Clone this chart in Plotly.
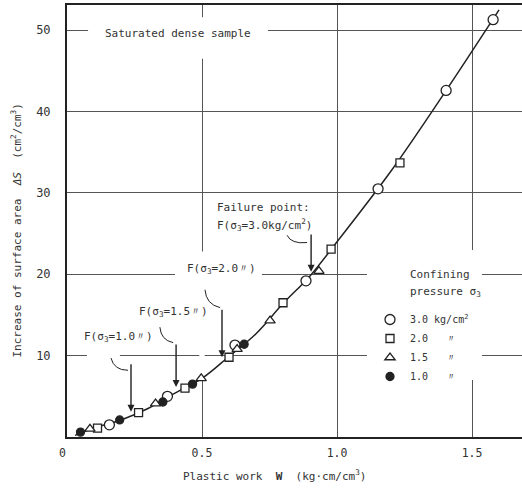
import plotly.graph_objects as go

# Plastic work W (kg.cm/cm3) vs increase of surface area dS (cm2/cm3)
w_30 = [0.157, 0.372, 0.622, 0.885, 1.152, 1.404, 1.578]
s_30 = [1.5, 5.0, 11.3, 19.2, 30.5, 42.6, 51.3]

w_20 = [0.113, 0.265, 0.437, 0.600, 0.800, 0.978, 1.233]
s_20 = [1.1, 3.0, 6.0, 9.8, 16.5, 23.1, 33.7]

w_15 = [0.085, 0.328, 0.497, 0.630, 0.752, 0.933]
s_15 = [1.0, 4.1, 7.2, 10.8, 14.3, 20.4]

w_10 = [0.050, 0.195, 0.355, 0.465, 0.656]
s_10 = [0.6, 2.1, 4.3, 6.5, 11.4]

# fitted curve
w_fit = [0.03, 0.1, 0.2, 0.3, 0.4, 0.5, 0.6, 0.7, 0.8, 0.9, 1.0, 1.2, 1.4, 1.6]
s_fit = [0.2, 1.1, 2.1, 3.5, 5.4, 7.2, 9.9, 12.7, 16.4, 19.8, 24.0, 32.7, 42.4, 52.5]

# failure points (arrow tips)
fail_w = [0.237, 0.404, 0.574, 0.904]
fail_s = [3.1, 6.15, 9.8, 20.3]
fail_len = [49, 44, 49, 50]

legend_names = ['3.0 kg/cm<sup>2</sup>', '2.0   〃', '1.5   〃', '1.0   〃']

MONO = 'DejaVu Sans Mono'
INK = '#222'
TXT = '#333'

fig = go.Figure()
fig.add_trace(go.Scatter(x=w_fit, y=s_fit, mode='lines', line=dict(color=INK, width=1.5, shape='spline'),
                         showlegend=False, hoverinfo='skip'))

series = [
    (w_30, s_30, 'circle', 'white', 10),
    (w_20, s_20, 'square', 'white', 8),
    (w_15, s_15, 'triangle-up', 'white', 9),
    (w_10, s_10, 'circle', INK, 8),
]
for (w, s, sym, fill, size), name in zip(series, legend_names):
    fig.add_trace(go.Scatter(x=w, y=s, mode='markers', name=name,
                             marker=dict(symbol=sym, color=fill, size=size,
                                         line=dict(color=INK, width=1.3))))

# white patches where the original grid is broken
gaps = [
    (0.078, 0.744, 46.5, 51.6),
    (0.49, 0.51, 7.0, 22.8),
    (0.40, 0.722, 19.5, 20.5),
    (0.074, 0.196, 9.5, 10.5),
    (1.111, 1.537, 7.0, 23.0),
]
shapes = []
for x0, x1, y0, y1 in gaps:
    shapes.append(dict(type='rect', xref='x', yref='y', x0=x0, x1=x1, y0=y0, y1=y1,
                       fillcolor='white', line=dict(width=0), layer='between'))

# curved leaders from labels to arrows
leaders = [
    (0.163, 9.7, 0.174, 8.2, 0.226, 8.2),
    (0.344, 13.5, 0.348, 11.9, 0.393, 11.6),
    (0.511, 18.1, 0.515, 16.3, 0.567, 15.9),
    (0.815, 24.8, 0.83, 23.7, 0.889, 23.9),
]
for x0, y0, cx, cy, x1, y1 in leaders:
    shapes.append(dict(type='path', xref='x', yref='y', path=f'M {x0},{y0} Q {cx},{cy} {x1},{y1}',
                       line=dict(color=INK, width=1)))

annotations = []
for w, s, ln in zip(fail_w, fail_s, fail_len):
    annotations.append(dict(x=w, y=s, ax=0, ay=-ln, text='', showarrow=True, arrowhead=2,
                            arrowsize=1, arrowwidth=1.4, arrowcolor=INK))

labels = [
    (0.056, 12.3, 'F(σ<sub>3</sub>=1.0〃)'),
    (0.259, 15.4, 'F(σ<sub>3</sub>=1.5〃)'),
    (0.437, 20.7, 'F(σ<sub>3</sub>=2.0〃)'),
    (0.548, 28.2, 'Failure point:'),
    (0.548, 26.0, 'F(σ<sub>3</sub>=3.0kg/cm<sup>2</sup>)'),
    (0.133, 49.6, 'Saturated dense sample'),
    (1.262, 20.0, 'Confining'),
    (1.262, 17.8, 'pressure σ<sub>3</sub>'),
]
for x, y, t in labels:
    annotations.append(dict(x=x, y=y, text=t, showarrow=False, xanchor='left', yanchor='middle',
                            font=dict(family=MONO, size=11, color=TXT), bgcolor='white'))

annotations += [
    dict(x=-0.022, y=-0.058, xref='paper', yref='paper', text='0', showarrow=False,
         font=dict(family=MONO, size=11.5, color=TXT)),
    dict(x=0.457, y=-0.11, xref='paper', yref='paper', showarrow=False,
         text='Plastic work  <b>W</b>  (kg·cm/cm<sup>3</sup>)',
         font=dict(family=MONO, size=11, color=TXT)),
    dict(x=-0.132, y=0.479, xref='paper', yref='paper', showarrow=False, textangle=-90,
         text='Increase of surface area  <i>ΔS</i>  (cm<sup>2</sup>/cm<sup>3</sup>)',
         font=dict(family=MONO, size=11, color=TXT)),
]

fig.update_xaxes(range=[0, 1.685], tickvals=[0.5, 1.0, 1.5], ticktext=['0.5', '1.0', '1.5'],
                 showgrid=True, gridcolor='#555', gridwidth=1, zeroline=False,
                 showline=True, linecolor=INK, linewidth=2, mirror=True, ticks='',
                 ticklabelstandoff=4, tickfont=dict(family=MONO, size=11.5, color=TXT))
fig.update_yaxes(range=[0, 53.1], tickvals=[10, 20, 30, 40, 50],
                 showgrid=True, gridcolor='#555', gridwidth=1, zeroline=False,
                 showline=True, linecolor=INK, linewidth=2, ticks='',
                 ticklabelstandoff=12, tickfont=dict(family=MONO, size=12, color=TXT))

fig.update_layout(width=522, height=488, margin=dict(l=67, r=0, t=5, b=51),
                  plot_bgcolor='white', paper_bgcolor='white',
                  shapes=shapes, annotations=annotations,
                  legend=dict(x=(370 - 67) / 455, y=(437 - 305) / 432, xanchor='left', yanchor='top',
                              bgcolor='rgba(0,0,0,0)', font=dict(family=MONO, size=10, color=TXT),
                              itemwidth=30, tracegroupgap=0))

# drop the page's default body margin so the figure sits at the window corner
fig.write_html('out.html', config={'displayModeBar': False},
               post_script="document.body.style.margin='0';")
